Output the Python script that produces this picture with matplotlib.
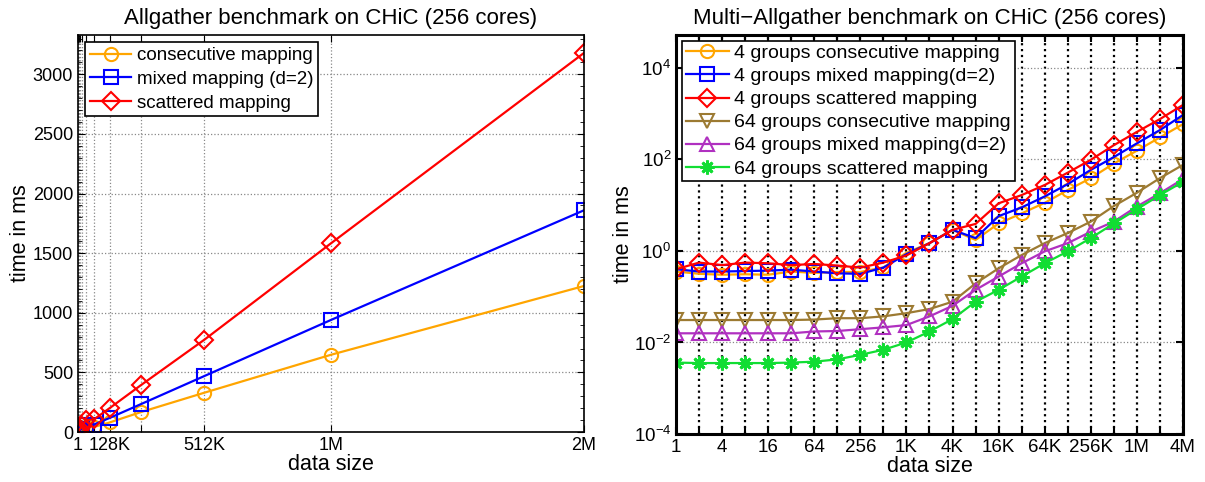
import matplotlib
matplotlib.use('Agg')
import matplotlib.pyplot as plt
import numpy as np
from matplotlib.ticker import FixedLocator, NullFormatter

plt.rcParams['font.family'] = ['Liberation Sans', 'DejaVu Sans']

# ---- left chart: Allgather, 256 cores ----
left_sizes = [2 ** k for k in range(22)]  # 1 .. 2M
left_tick_vals = [1, 2 ** 17, 2 ** 19, 2 ** 20, 2 ** 21]
left_tick_labels = ['1', '128K', '512K', '1M', '2M']
left_consecutive = [0.3, 0.3, 0.3, 0.35, 0.4, 0.5, 0.6, 0.8, 1.0, 1.4, 2.2, 3.5, 6, 11, 20, 38,
                    42, 80, 168, 330, 648, 1225]
left_mixed = [0.35, 0.35, 0.35, 0.4, 0.45, 0.5, 0.7, 0.9, 1.2, 1.8, 2.8, 4.5, 8, 15, 29, 58,
              62, 118, 235, 470, 940, 1860]
left_scattered = [0.4, 0.4, 0.45, 0.5, 0.55, 0.6, 0.8, 1.1, 1.6, 2.5, 4, 7, 12, 25, 50, 100,
                  105, 200, 395, 775, 1583, 3180]

# ---- right chart: Multi-Allgather, log-log ----
right_exp = list(range(23))  # 2^0 .. 2^22
right_tick_exp = [0, 2, 4, 6, 8, 10, 12, 14, 16, 18, 20, 22]
right_tick_labels = ['1', '4', '16', '64', '256', '1K', '4K', '16K', '64K', '256K', '1M', '4M']
# log10(time in ms)
g4_consecutive = [-0.45, -0.50, -0.52, -0.51, -0.52, -0.45, -0.48, -0.46, -0.46, -0.36, -0.04, 0.17,
                  0.46, 0.24, 0.60, 0.82, 1.05, 1.33, 1.59, 1.91, 2.19, 2.48, 2.77]
g4_mixed = [-0.40, -0.45, -0.45, -0.44, -0.43, -0.41, -0.45, -0.49, -0.50, -0.365, -0.07, 0.17,
            0.46, 0.28, 0.76, 0.95, 1.19, 1.46, 1.77, 2.05, 2.35, 2.64, 2.97]
g4_scattered = [-0.40, -0.255, -0.31, -0.255, -0.27, -0.31, -0.285, -0.32, -0.365, -0.255, -0.10, 0.17,
                0.46, 0.59, 1.04, 1.22, 1.44, 1.71, 1.99, 2.31, 2.60, 2.88, 3.19]
g64_consecutive = [-1.51, -1.51, -1.51, -1.51, -1.51, -1.51, -1.50, -1.47, -1.47, -1.43, -1.36, -1.27,
                   -1.11, -0.71, -0.38, -0.09, 0.17, 0.39, 0.64, 0.98, 1.27, 1.59, 1.88]
g64_mixed = [-1.80, -1.80, -1.80, -1.80, -1.80, -1.80, -1.76, -1.75, -1.71, -1.67, -1.62, -1.43,
             -1.20, -0.85, -0.56, -0.27, -0.01, 0.17, 0.42, 0.64, 0.97, 1.26, 1.57]
g64_scattered = [-2.44, -2.45, -2.45, -2.45, -2.45, -2.44, -2.42, -2.37, -2.27, -2.16, -2.00, -1.76,
                 -1.49, -1.11, -0.85, -0.56, -0.27, -0.01, 0.28, 0.60, 0.91, 1.22, 1.51]

orange = '#FFA500'
blue = '#0000FF'
red = '#FF0000'
brown = '#9C7A32'
purple = '#B030C0'
green = '#11DD33'

fig = plt.figure(figsize=(12.05, 4.82), dpi=100)
ax1 = fig.add_axes([0.0647, 0.1037, 0.42, 0.8237])
ax2 = fig.add_axes([0.561, 0.0996, 0.4207, 0.828])

mk = dict(markerfacecolor='none', markeredgewidth=1.5, linewidth=1.6, markersize=9.5)

# left
ax1.plot(left_sizes, left_consecutive, '-o', color=orange, label='consecutive mapping', **mk)
ax1.plot(left_sizes, left_mixed, '-s', color=blue, label='mixed mapping (d=2)', **mk)
ax1.plot(left_sizes, left_scattered, '-D', color=red, label='scattered mapping', **mk)
ax1.set_xlim(1, 2 ** 21)
ax1.set_ylim(0, 3330)
ax1.set_xticks(left_sizes)
ax1.set_xticklabels([left_tick_labels[left_tick_vals.index(s)] if s in left_tick_vals else ''
                     for s in left_sizes])
ax1.set_yticks([0, 500, 1000, 1500, 2000, 2500, 3000])
ax1.yaxis.set_minor_locator(FixedLocator(np.arange(0, 3330, 100)))
ax1.grid(True, which='major', linestyle=':', color='#888888', linewidth=0.9)
ax1.tick_params(direction='in', which='both', top=True, right=True, labelsize=13, length=5)
ax1.tick_params(which='minor', length=3)
for s in ax1.spines.values():
    s.set_linewidth(1.2)
ax1.set_xlabel('data size', fontsize=15.5, labelpad=0)
ax1.set_ylabel('time in ms', fontsize=15.5, labelpad=1)
ax1.set_title('Allgather benchmark on CHiC (256 cores)', fontsize=16, pad=8)
leg1 = ax1.legend(loc='upper left', fontsize=13.5, fancybox=False, edgecolor='black',
                  framealpha=1, handlelength=2.2, borderpad=0.25, labelspacing=0.35,
                  handletextpad=0.3, borderaxespad=0.4)
leg1.get_frame().set_linewidth(1.2)

# right
right_x = [2 ** e for e in right_exp]
ax2.set_xscale('log', base=2)
ax2.set_yscale('log')
ax2.plot(right_x, [10 ** v for v in g4_consecutive], '-o', color=orange, label='4 groups consecutive mapping', **mk)
ax2.plot(right_x, [10 ** v for v in g4_mixed], '-s', color=blue, label='4 groups mixed mapping(d=2)', **mk)
ax2.plot(right_x, [10 ** v for v in g4_scattered], '-D', color=red, label='4 groups scattered mapping', **mk)
ax2.plot(right_x, [10 ** v for v in g64_consecutive], '-v', color=brown, label='64 groups consecutive mapping', **mk)
ax2.plot(right_x, [10 ** v for v in g64_mixed], '-^', color=purple, label='64 groups mixed mapping(d=2)', **mk)
ax2.plot(right_x, [10 ** v for v in g64_scattered], '-', marker=(8, 2, 0), color=green,
         label='64 groups scattered mapping', markeredgewidth=2, linewidth=1.6, markersize=10)
ax2.set_xlim(1, 2 ** 22)
ax2.set_ylim(1e-4, 10 ** 4.72)
ax2.set_xticks(right_x)
ax2.set_xticklabels([right_tick_labels[right_tick_exp.index(e)] if e in right_tick_exp else ''
                     for e in right_exp])
ax2.xaxis.set_minor_formatter(NullFormatter())
ax2.set_yticks([1e-4, 1e-2, 1, 1e2, 1e4])
ax2.yaxis.set_minor_locator(FixedLocator([]))
ax2.grid(True, axis='x', linestyle=':', color='black', linewidth=1.6)
ax2.grid(True, axis='y', linestyle=':', color='#888888', linewidth=0.9)
ax2.tick_params(direction='in', which='both', top=True, right=True, labelsize=13.5, length=5, width=1.5)
for s in ax2.spines.values():
    s.set_linewidth(2.2)
ax2.set_xlabel('data size', fontsize=15.5, labelpad=0)
ax2.set_ylabel('time in ms', fontsize=15.5, labelpad=0)
ax2.set_title('Multi\u2212Allgather benchmark on CHiC (256 cores)', fontsize=16, pad=8)
leg2 = ax2.legend(loc='upper left', fontsize=14, fancybox=False, edgecolor='black',
                  framealpha=1, handlelength=2.2, borderpad=0.2, labelspacing=0.28,
                  handletextpad=0.3, borderaxespad=0.3)
leg2.get_frame().set_linewidth(1.2)

fig.savefig('out.png', dpi=100)
